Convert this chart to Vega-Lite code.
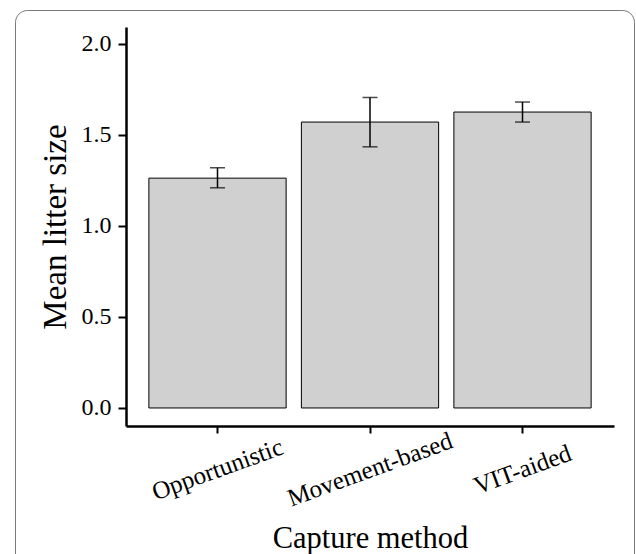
{
  "$schema": "https://vega.github.io/schema/vega-lite/v6.json",
  "autosize": "none",
  "padding": {"left": 15, "top": 10, "right": 2, "bottom": 0},
  "width": 619,
  "height": 560,
  "background": "white",
  "data": {
    "values": [
      {"method": "Opportunistic", "mean": 1.262, "lo": 1.209, "hi": 1.319},
      {"method": "Movement-based", "mean": 1.570, "lo": 1.434, "hi": 1.705},
      {"method": "VIT-aided", "mean": 1.625, "lo": 1.570, "hi": 1.680}
    ]
  },
  "encoding": {
    "x": {
      "field": "method",
      "type": "nominal",
      "sort": null,
      "scale": {"range": [111, 599], "paddingInner": 0.1, "paddingOuter": 0.15},
      "axis": {
        "title": "Capture method",
        "offset": -144,
        "labelAngle": -20,
        "labelAlign": "center",
        "labelBaseline": "middle",
        "labelPadding": 36,
        "labelFontSize": 25,
        "tickSize": 7,
        "titlePadding": 13,
        "titleFontSize": 30.5
      }
    }
  },
  "layer": [
    {
      "mark": {"type": "bar", "fill": "#cfd0cf", "stroke": "black", "strokeWidth": 1},
      "encoding": {
        "y": {
          "field": "mean",
          "type": "quantitative",
          "scale": {"domain": [-0.099, 2.092], "range": [416, 17], "nice": false, "zero": false},
          "axis": {
            "title": "Mean litter size",
            "offset": -111,
            "values": [0, 0.5, 1, 1.5, 2],
            "format": ".1f",
            "labelFontSize": 24,
            "labelPadding": 7,
            "tickSize": 8,
            "titleX": -54,
            "titleFontSize": 33
          }
        },
        "y2": {"datum": 0}
      }
    },
    {
      "mark": {"type": "rule", "color": "black", "strokeWidth": 1.5},
      "encoding": {
        "y": {"field": "lo", "type": "quantitative"},
        "y2": {"field": "hi"}
      }
    },
    {
      "mark": {"type": "tick", "color": "black", "size": 15, "thickness": 1.5},
      "encoding": {"y": {"field": "lo", "type": "quantitative"}}
    },
    {
      "mark": {"type": "tick", "color": "black", "size": 15, "thickness": 1.5},
      "encoding": {"y": {"field": "hi", "type": "quantitative"}}
    }
  ],
  "config": {
    "view": {"stroke": "#7a7a7a", "strokeWidth": 1, "cornerRadius": 12},
    "font": "Liberation Serif",
    "axis": {
      "grid": false,
      "domainColor": "black",
      "domainWidth": 2.5,
      "tickColor": "black",
      "tickWidth": 2,
      "labelColor": "black",
      "titleColor": "black",
      "labelFont": "Liberation Serif",
      "titleFont": "Liberation Serif",
      "titleFontWeight": "normal"
    },
    "tick": {"bandSize": 15}
  }
}
